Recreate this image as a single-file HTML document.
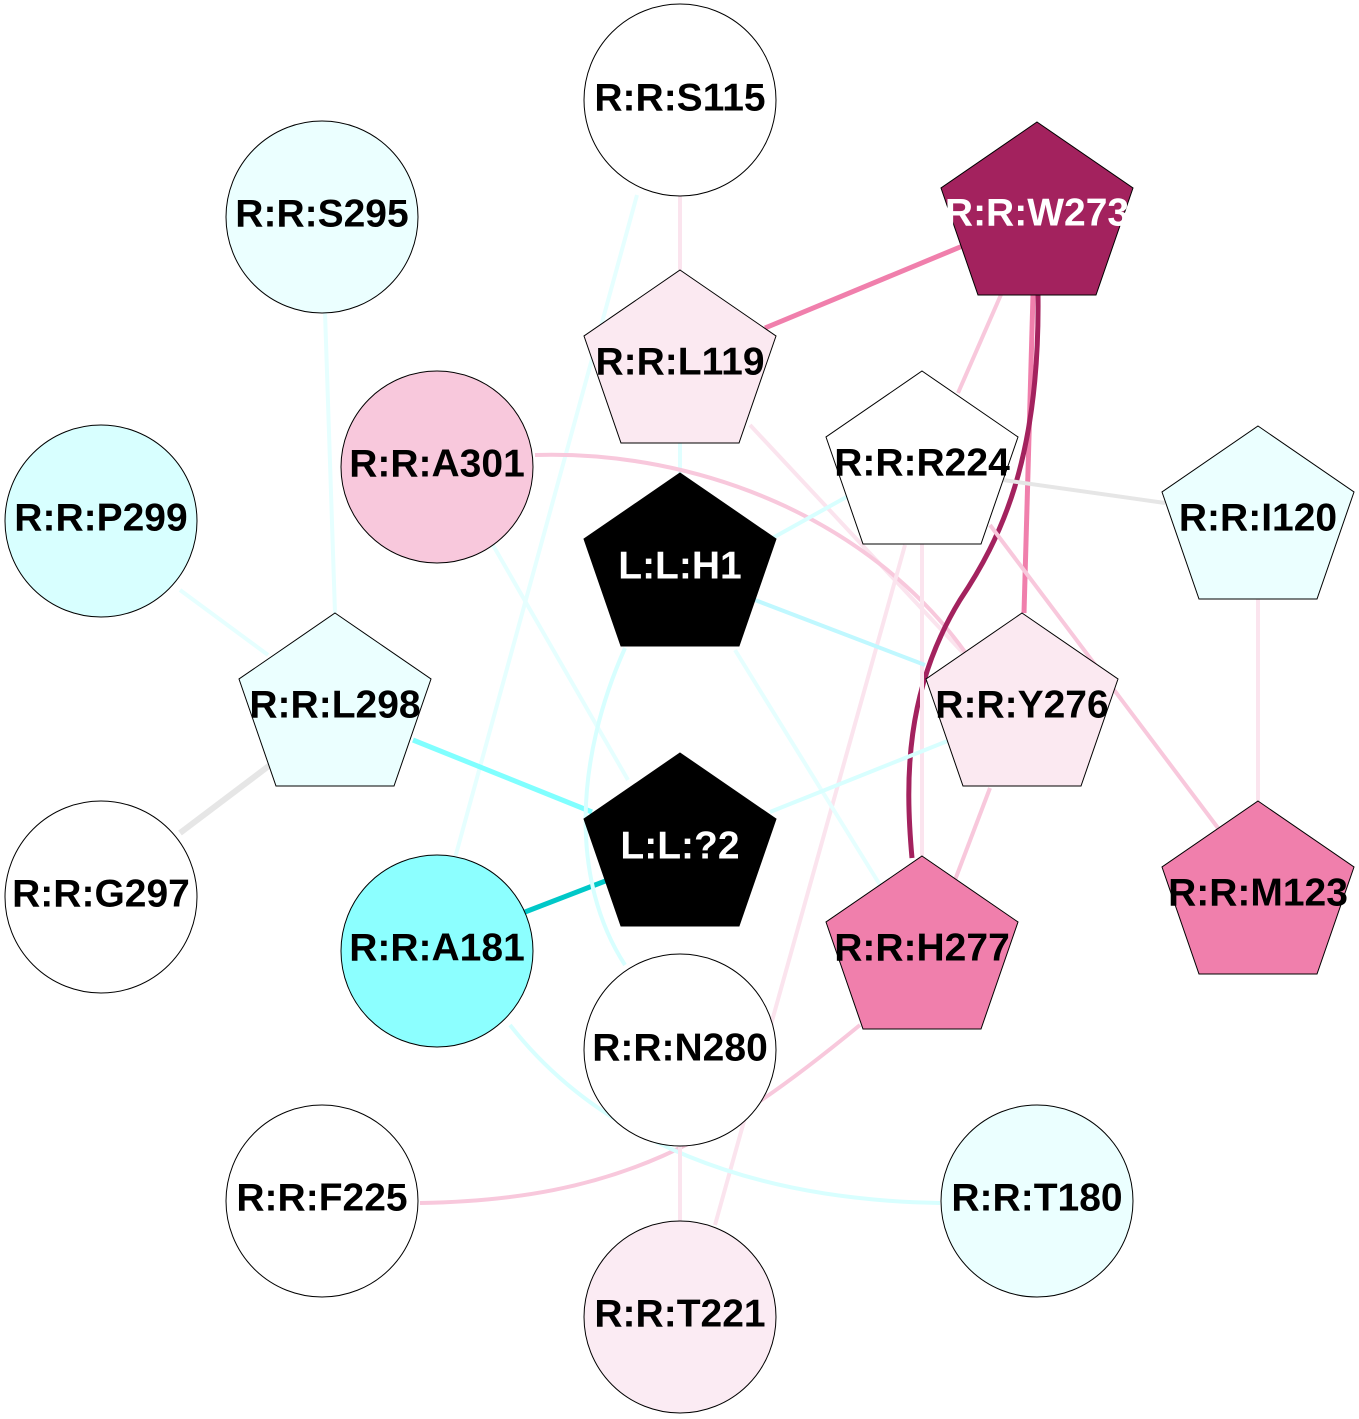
<!DOCTYPE html>
<html><head><meta charset="utf-8"><style>body{margin:0;background:#fff}svg{display:block}text{font-family:"Liberation Sans",Arial,sans-serif;font-weight:bold;font-size:39px;text-anchor:middle;dominant-baseline:central}</style></head><body>
<svg width="1359" height="1419" viewBox="0 0 1359 1419" xmlns="http://www.w3.org/2000/svg">
<g fill="none" stroke-width="4">
<line x1="680" y1="196" x2="680" y2="270" stroke="#fbe4ee"/>
<line x1="637" y1="195" x2="455" y2="858" stroke="#e6ffff"/>
<line x1="325" y1="312" x2="335" y2="613" stroke="#e6ffff"/>
<line x1="180" y1="590" x2="268" y2="655" stroke="#e6ffff"/>
<line x1="180" y1="833" x2="270" y2="765" stroke="#e6e6e6" stroke-width="6"/>
<line x1="413" y1="740" x2="592" y2="812" stroke="#80ffff" stroke-width="5"/>
<line x1="525" y1="912" x2="608" y2="880" stroke="#00c8c8" stroke-width="5"/>
<line x1="765" y1="328" x2="965" y2="245" stroke="#f07fac" stroke-width="5"/>
<line x1="680" y1="443" x2="680" y2="475" stroke="#e0ffff"/>
<line x1="750" y1="425" x2="965" y2="655" stroke="#fbe4ee"/>
<path d="M535,455 C700,450 870,520 965,652" stroke="#f8c8dc"/>
<line x1="490" y1="540" x2="628" y2="780" stroke="#e6ffff"/>
<line x1="1003" y1="290" x2="958" y2="393" stroke="#f8c8dc"/>
<line x1="1033" y1="295" x2="1024" y2="613" stroke="#f07fac" stroke-width="5"/>
<path d="M1038,295 C1040,460 1000,540 960,600 C905,690 905,780 912,858" stroke="#a3225e" stroke-width="5"/>
<line x1="1003" y1="480" x2="1165" y2="503" stroke="#e6e6e6"/>
<line x1="760" y1="545" x2="850" y2="495" stroke="#d8ffff"/>
<line x1="922" y1="544" x2="922" y2="856" stroke="#fbe4ee"/>
<line x1="905" y1="545" x2="715" y2="1225" stroke="#fbe4ee"/>
<line x1="990" y1="525" x2="1218" y2="828" stroke="#f8c8dc"/>
<line x1="755" y1="600" x2="925" y2="665" stroke="#c0f8ff"/>
<path d="M625,648 C575,760 570,880 625,965" stroke="#d8ffff"/>
<line x1="735" y1="650" x2="880" y2="885" stroke="#e6ffff"/>
<line x1="950" y1="740" x2="770" y2="812" stroke="#d8ffff"/>
<line x1="990" y1="788" x2="955" y2="880" stroke="#f8c8dc"/>
<path d="M860,1025 C720,1140 620,1200 420,1203" stroke="#f8c8dc"/>
<path d="M510,1025 C600,1140 750,1200 940,1203" stroke="#d8ffff"/>
<line x1="680" y1="1146" x2="680" y2="1222" stroke="#fbe4ee"/>
<line x1="1258" y1="599" x2="1258" y2="801" stroke="#fbe4ee"/>
</g>
<g stroke="#000" stroke-width="1">
<circle cx="680" cy="100" r="96" fill="#fff"/>
<circle cx="322" cy="217" r="96" fill="#ebffff"/>
<circle cx="101" cy="521" r="96" fill="#d8ffff"/>
<circle cx="437" cy="467" r="96" fill="#f8c8dc"/>
<circle cx="101" cy="897" r="96" fill="#fff"/>
<circle cx="437" cy="951" r="96" fill="#8cffff"/>
<circle cx="680" cy="1050" r="96" fill="#fff"/>
<circle cx="322" cy="1201" r="96" fill="#fff"/>
<circle cx="680" cy="1317" r="96" fill="#fbebf3"/>
<circle cx="1037" cy="1201" r="96" fill="#ebffff"/>
</g>
<defs><polygon id="p" points="0,-96 96,-30 59,77 -59,77 -96,-30"/></defs>
<g stroke="#000" stroke-width="1">
<use href="#p" x="1037" y="218" fill="#a3225e"/>
<use href="#p" x="680" y="366" fill="#fbe9f1"/>
<use href="#p" x="922" y="467" fill="#fff"/>
<use href="#p" x="1258" y="522" fill="#ebffff"/>
<use href="#p" x="680" y="569" fill="#000"/>
<use href="#p" x="335" y="709" fill="#ebffff"/>
<use href="#p" x="1022" y="709" fill="#fbe9f1"/>
<use href="#p" x="680" y="849" fill="#000"/>
<use href="#p" x="922" y="952" fill="#f07fac"/>
<use href="#p" x="1258" y="897" fill="#f07fac"/>
</g>
<text x="680" y="98">R:R:S115</text>
<text x="322" y="214">R:R:S295</text>
<text x="101" y="518">R:R:P299</text>
<text x="437" y="464">R:R:A301</text>
<text x="101" y="894">R:R:G297</text>
<text x="437" y="948">R:R:A181</text>
<text x="680" y="1048">R:R:N280</text>
<text x="322" y="1198">R:R:F225</text>
<text x="680" y="1314">R:R:T221</text>
<text x="1037" y="1198">R:R:T180</text>
<text x="1037" y="213" fill="#fff">R:R:W273</text>
<text x="680" y="362">R:R:L119</text>
<text x="922" y="463">R:R:R224</text>
<text x="1258" y="518">R:R:I120</text>
<text x="680" y="566" fill="#fff">L:L:H1</text>
<text x="335" y="705">R:R:L298</text>
<text x="1022" y="705">R:R:Y276</text>
<text x="680" y="846" fill="#fff">L:L:?2</text>
<text x="922" y="948">R:R:H277</text>
<text x="1258" y="893">R:R:M123</text>
</svg>
</body></html>
